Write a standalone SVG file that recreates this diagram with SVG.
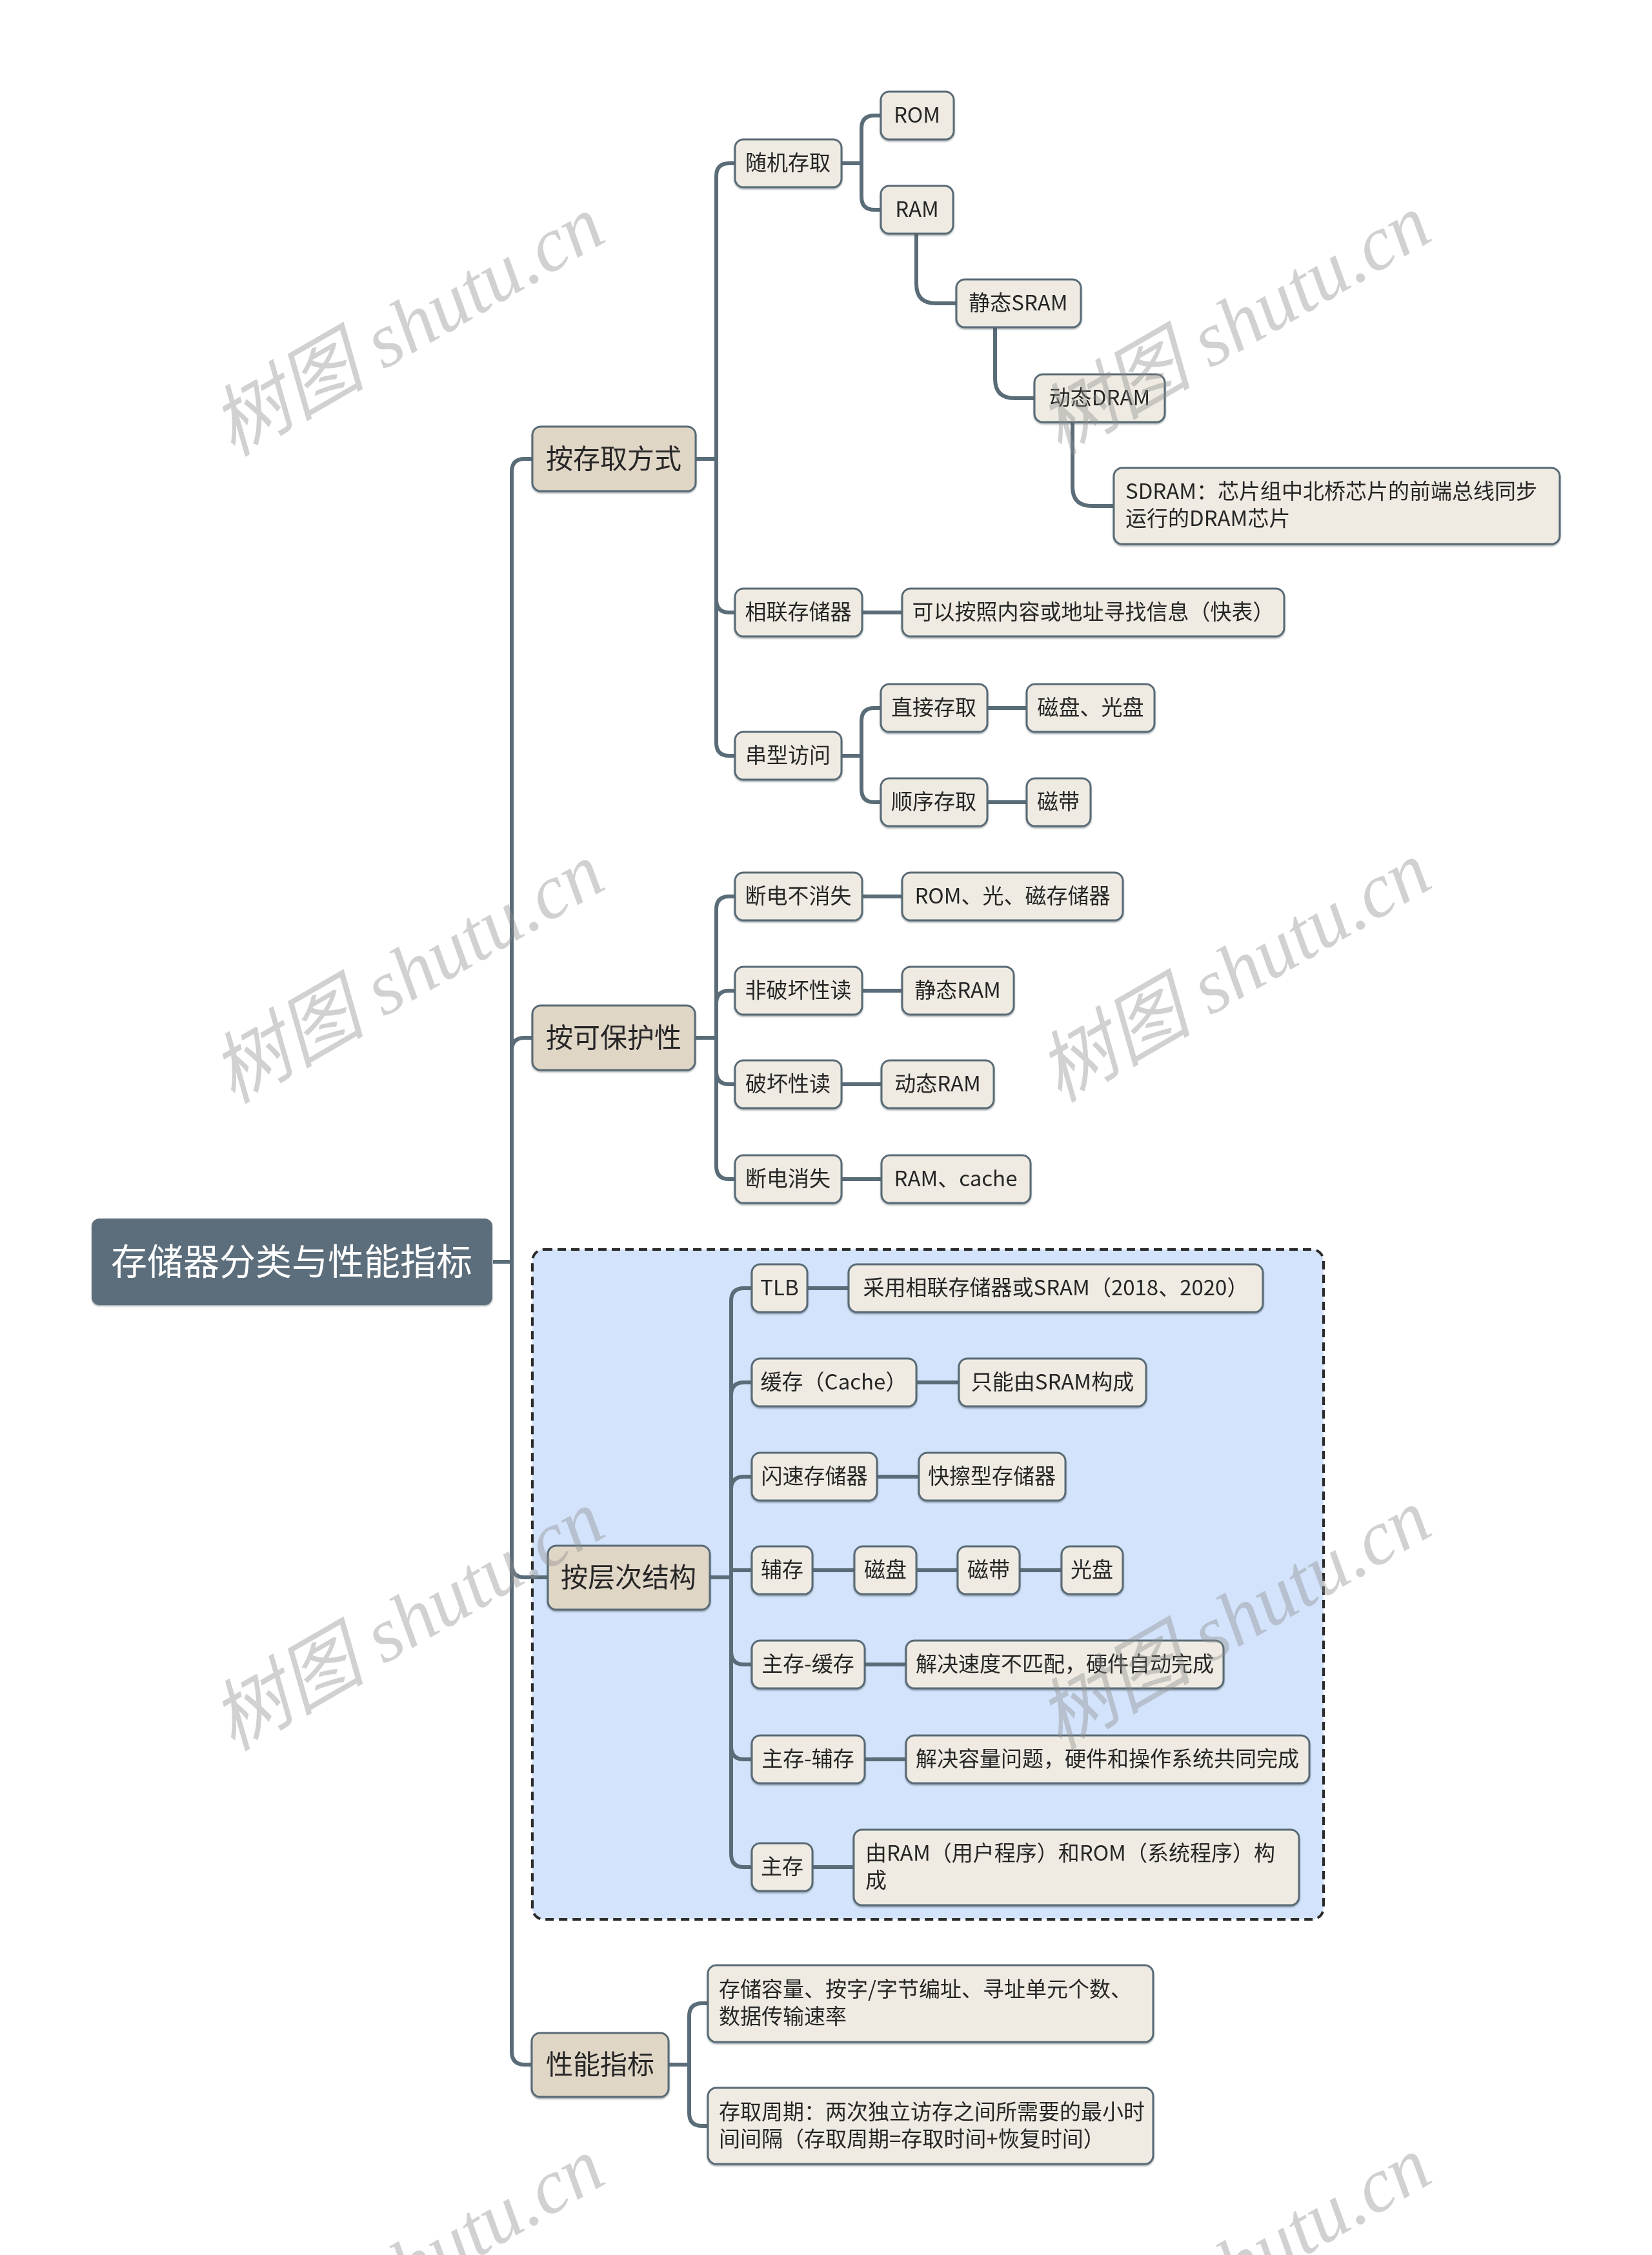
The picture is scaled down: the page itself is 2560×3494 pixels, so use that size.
<svg xmlns="http://www.w3.org/2000/svg" width="2560" height="3494" viewBox="0 0 2560 3494">
<defs>
<style>
.bg{fill:#ffffff}
.con{fill:none;stroke:#5a6c78;stroke-width:6;stroke-linecap:butt;stroke-linejoin:round}
.nd{fill:#efebe3;stroke:#586a75;stroke-width:3}
.l1{fill:#e0d6c6;stroke:#586a75;stroke-width:3}
.rt{fill:#5b6e7b;stroke:none}
.t{font-family:"Noto Sans CJK SC","Noto Sans",sans-serif;font-size:33px;fill:#262626}
.c{text-anchor:middle}
.t1{font-family:"Noto Sans CJK SC","Noto Sans",sans-serif;font-size:42px;fill:#262626;text-anchor:middle}
.t0{font-family:"Noto Sans CJK SC","Noto Sans",sans-serif;font-size:56px;fill:#ffffff;text-anchor:middle}
.wm{font-family:"Liberation Serif","Noto Sans CJK SC",serif;font-style:italic;font-size:120px;fill:#8c8c8c;fill-opacity:0.4;text-anchor:middle}
</style>
<filter id="sh" x="-5%" y="-5%" width="110%" height="120%">
<feDropShadow dx="0" dy="2" stdDeviation="1" flood-color="#3a4a55" flood-opacity="0.45"/>
</filter>
</defs>
<rect class="bg" x="0" y="0" width="2560" height="3494"/>

<g id="region-hierarchy">
<rect x="825" y="1936" width="1226" height="1038" rx="18" ry="18" fill="#d3e3fb" stroke="#2b2b2b" stroke-width="4" stroke-dasharray="13 8"/>
</g>

<g id="connectors">
<path class="con" d="M764,1955 H793 V731 Q793,711 813,711 H825"/>
<path class="con" d="M764,1955 H793 V1628 Q793,1608 813,1608 H825"/>
<path class="con" d="M764,1955 H793 V2424 Q793,2444 813,2444 H849"/>
<path class="con" d="M764,1955 H793 V3179 Q793,3199 813,3199 H824"/>

<path class="con" d="M1078,711 H1110 V273 Q1110,253 1130,253 H1139"/>
<path class="con" d="M1078,711 H1110 V929 Q1110,949 1130,949 H1139"/>
<path class="con" d="M1078,711 H1110 V1151 Q1110,1171 1130,1171 H1139"/>

<path class="con" d="M1304,253 H1335 V199 Q1335,179 1355,179 H1365"/>
<path class="con" d="M1304,253 H1335 V305 Q1335,325 1355,325 H1365"/>
<path class="con" d="M1420,362 V440 Q1420,470 1450,470 H1482"/>
<path class="con" d="M1542,507 V587 Q1542,617 1572,617 H1603"/>
<path class="con" d="M1662,654 V754 Q1662,784 1692,784 H1726"/>

<path class="con" d="M1336,949 H1398"/>

<path class="con" d="M1304,1171 H1335 V1117 Q1335,1097 1355,1097 H1365"/>
<path class="con" d="M1304,1171 H1335 V1223 Q1335,1243 1355,1243 H1365"/>
<path class="con" d="M1530,1097 H1591"/>
<path class="con" d="M1530,1243 H1591"/>

<path class="con" d="M1077,1608 H1110 V1409 Q1110,1389 1130,1389 H1139"/>
<path class="con" d="M1077,1608 H1110 V1555 Q1110,1535 1130,1535 H1139"/>
<path class="con" d="M1077,1608 H1110 V1660 Q1110,1680 1130,1680 H1139"/>
<path class="con" d="M1077,1608 H1110 V1807 Q1110,1827 1130,1827 H1139"/>
<path class="con" d="M1336,1389 H1398"/>
<path class="con" d="M1336,1535 H1398"/>
<path class="con" d="M1304,1680 H1366"/>
<path class="con" d="M1304,1827 H1366"/>

<path class="con" d="M1100,2444 H1133 V2016 Q1133,1996 1153,1996 H1165"/>
<path class="con" d="M1100,2444 H1133 V2162 Q1133,2142 1153,2142 H1165"/>
<path class="con" d="M1100,2444 H1133 V2308 Q1133,2288 1153,2288 H1165"/>
<path class="con" d="M1100,2444 H1133 V2433 H1165"/>
<path class="con" d="M1100,2444 H1133 V2559 Q1133,2579 1153,2579 H1165"/>
<path class="con" d="M1100,2444 H1133 V2706 Q1133,2726 1153,2726 H1165"/>
<path class="con" d="M1100,2444 H1133 V2873 Q1133,2893 1153,2893 H1165"/>
<path class="con" d="M1251,1996 H1315"/>
<path class="con" d="M1420,2142 H1486"/>
<path class="con" d="M1359,2288 H1424"/>
<path class="con" d="M1259,2433 H1324"/>
<path class="con" d="M1420,2433 H1484"/>
<path class="con" d="M1580,2433 H1645"/>
<path class="con" d="M1340,2579 H1404"/>
<path class="con" d="M1340,2726 H1404"/>
<path class="con" d="M1259,2893 H1323"/>

<path class="con" d="M1036,3199 H1068 V3124 Q1068,3104 1088,3104 H1097"/>
<path class="con" d="M1036,3199 H1068 V3274 Q1068,3294 1088,3294 H1097"/>
</g>

<g id="root" filter="url(#sh)">
<rect class="rt" x="142" y="1888" width="621" height="134" rx="12"/>
<text class="t0" x="452" y="1975">存储器分类与性能指标</text>
</g>

<g id="n-access" filter="url(#sh)"><rect class="l1" x="825" y="661" width="253" height="100" rx="13"/><text class="t1" x="951" y="726">按存取方式</text></g>
<g id="n-protect" filter="url(#sh)"><rect class="l1" x="825" y="1558" width="252" height="100" rx="13"/><text class="t1" x="951" y="1623">按可保护性</text></g>
<g id="n-hier" filter="url(#sh)"><rect class="l1" x="849" y="2395" width="251" height="99" rx="13"/><text class="t1" x="974" y="2459">按层次结构</text></g>
<g id="n-perf" filter="url(#sh)"><rect class="l1" x="824" y="3150" width="212" height="99" rx="13"/><text class="t1" x="930" y="3214">性能指标</text></g>

<g id="n-random" filter="url(#sh)"><rect class="nd" x="1139" y="216" width="165" height="74" rx="13"/><text class="t c" x="1221" y="264">随机存取</text></g>
<g id="n-rom" filter="url(#sh)"><rect class="nd" x="1365" y="142" width="113" height="74" rx="13"/><text class="t c" x="1421" y="190">ROM</text></g>
<g id="n-ram" filter="url(#sh)"><rect class="nd" x="1365" y="288" width="112" height="74" rx="13"/><text class="t c" x="1421" y="336">RAM</text></g>
<g id="n-sram" filter="url(#sh)"><rect class="nd" x="1482" y="433" width="193" height="74" rx="13"/><text class="t c" x="1578" y="481">静态SRAM</text></g>
<g id="n-dram" filter="url(#sh)"><rect class="nd" x="1603" y="580" width="202" height="74" rx="13"/><text class="t c" x="1704" y="628">动态DRAM</text></g>
<g id="n-sdram" filter="url(#sh)"><rect class="nd" x="1726" y="725" width="691" height="118" rx="13"/><text class="t" x="1744" y="773">SDRAM：芯片组中北桥芯片的前端总线同步</text><text class="t" x="1744" y="815">运行的DRAM芯片</text></g>

<g id="n-assoc" filter="url(#sh)"><rect class="nd" x="1139" y="912" width="197" height="74" rx="13"/><text class="t c" x="1237" y="960">相联存储器</text></g>
<g id="n-assoc-d" filter="url(#sh)"><rect class="nd" x="1398" y="912" width="592" height="74" rx="13"/><text class="t c" x="1694" y="960">可以按照内容或地址寻找信息（快表）</text></g>

<g id="n-serial" filter="url(#sh)"><rect class="nd" x="1139" y="1134" width="165" height="74" rx="13"/><text class="t c" x="1221" y="1182">串型访问</text></g>
<g id="n-direct" filter="url(#sh)"><rect class="nd" x="1365" y="1060" width="165" height="74" rx="13"/><text class="t c" x="1447" y="1108">直接存取</text></g>
<g id="n-disk" filter="url(#sh)"><rect class="nd" x="1591" y="1060" width="198" height="74" rx="13"/><text class="t c" x="1690" y="1108">磁盘、光盘</text></g>
<g id="n-seq" filter="url(#sh)"><rect class="nd" x="1365" y="1206" width="165" height="74" rx="13"/><text class="t c" x="1447" y="1254">顺序存取</text></g>
<g id="n-tape" filter="url(#sh)"><rect class="nd" x="1591" y="1206" width="99" height="74" rx="13"/><text class="t c" x="1640" y="1254">磁带</text></g>

<g id="n-nonvol" filter="url(#sh)"><rect class="nd" x="1139" y="1352" width="197" height="74" rx="13"/><text class="t c" x="1237" y="1400">断电不消失</text></g>
<g id="n-nonvol-d" filter="url(#sh)"><rect class="nd" x="1398" y="1352" width="342" height="74" rx="13"/><text class="t c" x="1569" y="1400">ROM、光、磁存储器</text></g>
<g id="n-ndr" filter="url(#sh)"><rect class="nd" x="1139" y="1498" width="197" height="74" rx="13"/><text class="t c" x="1237" y="1546">非破坏性读</text></g>
<g id="n-ndr-d" filter="url(#sh)"><rect class="nd" x="1398" y="1498" width="173" height="74" rx="13"/><text class="t c" x="1484" y="1546">静态RAM</text></g>
<g id="n-dr" filter="url(#sh)"><rect class="nd" x="1139" y="1643" width="165" height="74" rx="13"/><text class="t c" x="1221" y="1691">破坏性读</text></g>
<g id="n-dr-d" filter="url(#sh)"><rect class="nd" x="1366" y="1643" width="174" height="74" rx="13"/><text class="t c" x="1453" y="1691">动态RAM</text></g>
<g id="n-vol" filter="url(#sh)"><rect class="nd" x="1139" y="1790" width="165" height="74" rx="13"/><text class="t c" x="1221" y="1838">断电消失</text></g>
<g id="n-vol-d" filter="url(#sh)"><rect class="nd" x="1366" y="1790" width="231" height="74" rx="13"/><text class="t c" x="1481" y="1838">RAM、cache</text></g>

<g id="n-tlb" filter="url(#sh)"><rect class="nd" x="1165" y="1959" width="86" height="74" rx="13"/><text class="t c" x="1208" y="2007">TLB</text></g>
<g id="n-tlb-d" filter="url(#sh)"><rect class="nd" x="1315" y="1959" width="642" height="74" rx="13"/><text class="t c" x="1636" y="2007">采用相联存储器或SRAM（2018、2020）</text></g>
<g id="n-cache" filter="url(#sh)"><rect class="nd" x="1165" y="2105" width="255" height="74" rx="13"/><text class="t c" x="1292" y="2153">缓存（Cache）</text></g>
<g id="n-cache-d" filter="url(#sh)"><rect class="nd" x="1486" y="2105" width="290" height="74" rx="13"/><text class="t c" x="1631" y="2153">只能由SRAM构成</text></g>
<g id="n-flash" filter="url(#sh)"><rect class="nd" x="1165" y="2251" width="194" height="74" rx="13"/><text class="t c" x="1262" y="2299">闪速存储器</text></g>
<g id="n-flash-d" filter="url(#sh)"><rect class="nd" x="1424" y="2251" width="227" height="74" rx="13"/><text class="t c" x="1537" y="2299">快擦型存储器</text></g>
<g id="n-aux" filter="url(#sh)"><rect class="nd" x="1165" y="2396" width="94" height="74" rx="13"/><text class="t c" x="1212" y="2444">辅存</text></g>
<g id="n-aux-disk" filter="url(#sh)"><rect class="nd" x="1324" y="2396" width="96" height="74" rx="13"/><text class="t c" x="1372" y="2444">磁盘</text></g>
<g id="n-aux-tape" filter="url(#sh)"><rect class="nd" x="1484" y="2396" width="96" height="74" rx="13"/><text class="t c" x="1532" y="2444">磁带</text></g>
<g id="n-aux-opt" filter="url(#sh)"><rect class="nd" x="1645" y="2396" width="95" height="74" rx="13"/><text class="t c" x="1692" y="2444">光盘</text></g>
<g id="n-mc" filter="url(#sh)"><rect class="nd" x="1165" y="2542" width="175" height="74" rx="13"/><text class="t c" x="1252" y="2590">主存-缓存</text></g>
<g id="n-mc-d" filter="url(#sh)"><rect class="nd" x="1404" y="2542" width="492" height="74" rx="13"/><text class="t c" x="1650" y="2590">解决速度不匹配，硬件自动完成</text></g>
<g id="n-ma" filter="url(#sh)"><rect class="nd" x="1165" y="2689" width="175" height="74" rx="13"/><text class="t c" x="1252" y="2737">主存-辅存</text></g>
<g id="n-ma-d" filter="url(#sh)"><rect class="nd" x="1404" y="2689" width="625" height="74" rx="13"/><text class="t c" x="1716" y="2737">解决容量问题，硬件和操作系统共同完成</text></g>
<g id="n-main" filter="url(#sh)"><rect class="nd" x="1165" y="2856" width="94" height="74" rx="13"/><text class="t c" x="1212" y="2904">主存</text></g>
<g id="n-main-d" filter="url(#sh)"><rect class="nd" x="1323" y="2835" width="690" height="117" rx="13"/><text class="t" x="1341" y="2883">由RAM（用户程序）和ROM（系统程序）构</text><text class="t" x="1341" y="2925">成</text></g>

<g id="n-cap" filter="url(#sh)"><rect class="nd" x="1097" y="3045" width="690" height="119" rx="13"/><text class="t" x="1114" y="3094">存储容量、按字/字节编址、寻址单元个数、</text><text class="t" x="1114" y="3136">数据传输速率</text></g>
<g id="n-cycle" filter="url(#sh)"><rect class="nd" x="1097" y="3235" width="690" height="118" rx="13"/><text class="t" x="1114" y="3284">存取周期：两次独立访存之间所需要的最小时</text><text class="t" x="1114" y="3326">间间隔（存取周期=存取时间+恢复时间）</text></g>

<g id="watermark">
<text class="wm" transform="translate(652,540) rotate(-30)">树图 shutu.cn</text>
<text class="wm" transform="translate(1933,538) rotate(-30)">树图 shutu.cn</text>
<text class="wm" transform="translate(652,1543) rotate(-30)">树图 shutu.cn</text>
<text class="wm" transform="translate(1933,1541) rotate(-30)">树图 shutu.cn</text>
<text class="wm" transform="translate(652,2546) rotate(-30)">树图 shutu.cn</text>
<text class="wm" transform="translate(1933,2544) rotate(-30)">树图 shutu.cn</text>
<text class="wm" transform="translate(652,3549) rotate(-30)">树图 shutu.cn</text>
<text class="wm" transform="translate(1933,3547) rotate(-30)">树图 shutu.cn</text>
</g>
</svg>
